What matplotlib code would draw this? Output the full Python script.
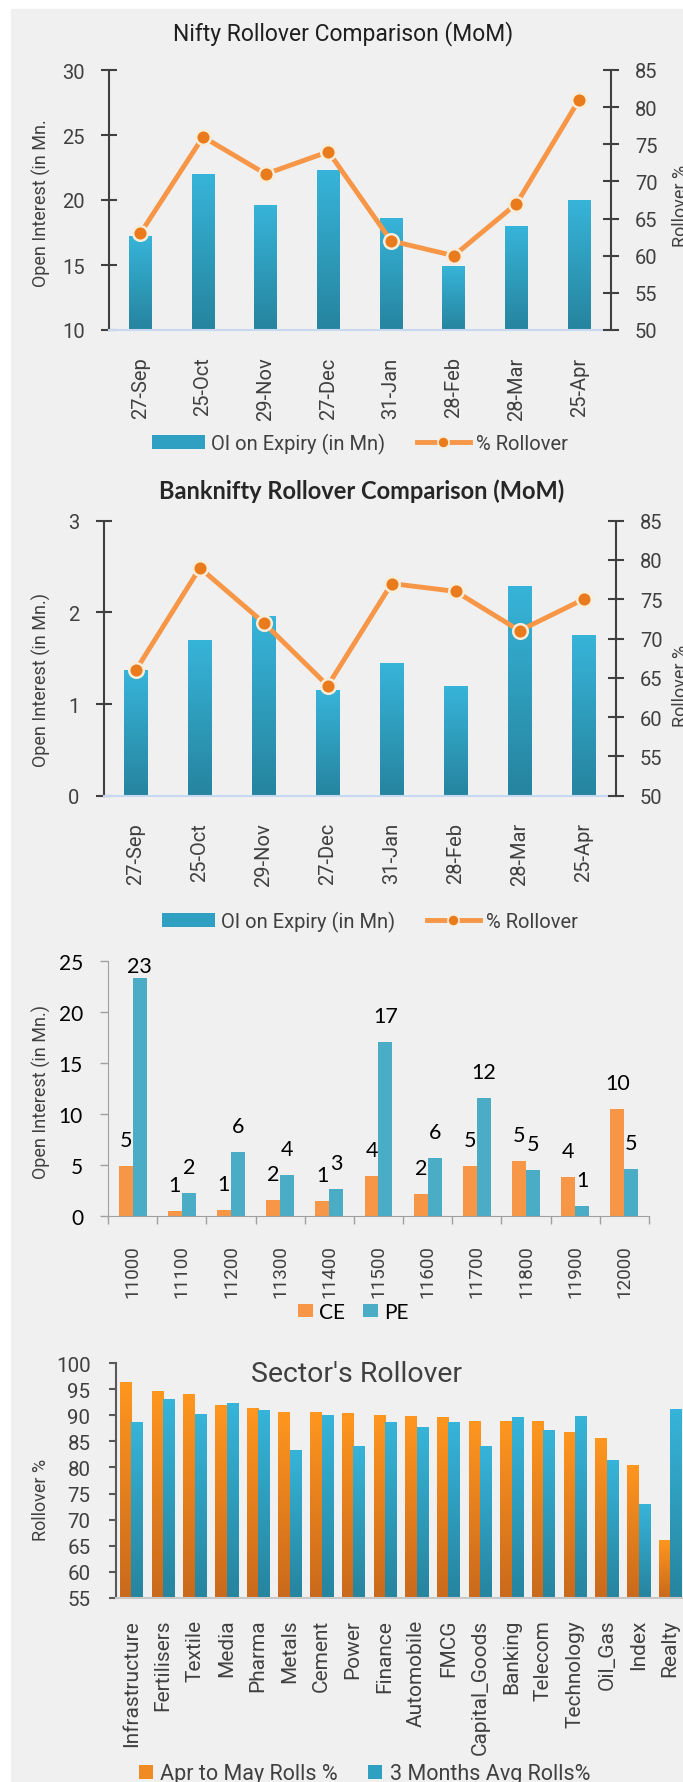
import numpy as np
import matplotlib
matplotlib.use("Agg")
import matplotlib.pyplot as plt
from matplotlib.patches import Rectangle, Patch
from matplotlib.lines import Line2D
from matplotlib.colors import LinearSegmentedColormap

W, H = 683, 1783

# --- data ---
months = ["27-Sep", "25-Oct", "29-Nov", "27-Dec", "31-Jan", "28-Feb", "28-Mar", "25-Apr"]
nifty_oi = [17.2, 22.0, 19.6, 22.3, 18.6, 14.9, 18.0, 20.0]
nifty_roll = [63, 76, 71, 74, 62, 60, 67, 81]
bank_oi = [1.37, 1.70, 1.96, 1.15, 1.45, 1.19, 2.29, 1.75]
bank_roll = [66, 79, 72, 64, 77, 76, 71, 75]

strikes = ["11000", "11100", "11200", "11300", "11400", "11500",
           "11600", "11700", "11800", "11900", "12000"]
ce_oi = [4.9, 0.52, 0.65, 1.55, 1.45, 3.9, 2.2, 4.9, 5.4, 3.85, 10.46]
pe_oi = [23.3, 2.25, 6.25, 4.05, 2.7, 17.0, 5.7, 11.55, 4.55, 0.98, 4.6]

sectors = ["Infrastructure", "Fertilisers", "Textile", "Media", "Pharma", "Metals",
           "Cement", "Power", "Finance", "Automobile", "FMCG", "Capital_Goods",
           "Banking", "Telecom", "Technology", "Oil_Gas", "Index", "Realty"]
roll_apr_may = [96.3, 94.6, 94.0, 91.9, 91.3, 90.6, 90.6, 90.4, 90.0, 89.8,
                89.6, 88.8, 88.8, 88.8, 86.7, 85.6, 80.4, 66.1]
roll_3m_avg = [88.7, 93.0, 90.2, 92.3, 90.9, 83.3, 90.0, 84.1, 88.7, 87.7,
               88.7, 84.1, 89.6, 87.1, 89.8, 81.4, 73.0, 91.1]

RAJ = ["Roboto", "DejaVu Sans"]
CAL = ["Lato", "DejaVu Sans"]
GREY = "#404040"
BLUE_TOP, BLUE_BOT = "#37b4d9", "#26849e"
ORG_TOP, ORG_BOT = "#ff961f", "#c9691c"


def box(x0, y0, x1, y1):
    return [x0 / W, 1 - y1 / H, (x1 - x0) / W, (y1 - y0) / H]


def gradient_bars(ax, bars, top, bottom):
    cmap = LinearSegmentedColormap.from_list("g", [bottom, top])
    grad = np.linspace(0, 1, 256).reshape(-1, 1)
    for b in bars:
        x0, y0 = b.get_x(), b.get_y()
        ax.imshow(grad, extent=[x0, x0 + b.get_width(), y0, y0 + b.get_height()],
                  origin="lower", cmap=cmap, aspect="auto", zorder=2)
        b.set_facecolor("none")
        b.set_edgecolor("none")


def set_family(labels, family):
    for lab in labels:
        lab.set_family(family)


fig = plt.figure(figsize=(W / 100, H / 100), dpi=100)
fig.patches.append(Rectangle((11 / W, 0), 1, 1 - 10 / H, transform=fig.transFigure,
                             color="#f0f0f0", zorder=-5))


def combo(ax_box, oi, roll, ymin, ymax, yticks, title, title_xy, title_kw,
          ylab, ylab_y, rlab_y, leg_xy, bottom_line):
    ax = fig.add_axes(box(*ax_box))
    ax.set_facecolor("none")
    x = np.arange(len(months))
    bars = ax.bar(x, np.array(oi) - ymin, bottom=ymin, width=0.36)
    gradient_bars(ax, bars, BLUE_TOP, BLUE_BOT)
    ax.set_xlim(-0.5, 7.5)
    ax.set_ylim(ymin, ymax)
    ax.set_yticks(yticks)
    ax.set_xticks(x)
    ax.set_xticklabels(months, rotation=90, fontsize=14.5, color=GREY)
    set_family(ax.get_xticklabels() + ax.get_yticklabels(), RAJ)
    ax.tick_params(axis="y", direction="inout", length=11, width=1.5, color=GREY,
                   pad=12, labelsize=14.5, labelcolor=GREY)
    ax.tick_params(axis="x", length=0, pad=19)
    for s in ["top", "right"]:
        ax.spines[s].set_visible(False)
    ax.spines["left"].set_color(GREY)
    ax.spines["left"].set_linewidth(1.5)
    ax.spines["bottom"].set_color(bottom_line)
    ax.spines["bottom"].set_linewidth(1.5)

    ax2 = ax.twinx()
    ax2.set_ylim(50, 85)
    ax2.set_yticks(range(50, 90, 5))
    set_family(ax2.get_yticklabels(), RAJ)
    ax2.tick_params(axis="y", direction="inout", length=11, width=1.5, color=GREY,
                    pad=12, labelsize=14.5, labelcolor=GREY)
    for s in ["top", "left", "bottom"]:
        ax2.spines[s].set_visible(False)
    ax2.spines["right"].set_color(GREY)
    ax2.spines["right"].set_linewidth(1.5)
    ax2.plot(x, roll, color="#f79646", lw=3.5, marker="o", ms=10.5,
             mfc="#ea7b1c", mec="#f6eddb", mew=1.8, zorder=3)

    fig.text(title_xy[0] / W, 1 - title_xy[1] / H, title, ha="center", va="center",
             **title_kw)
    fig.text(41 / W, 1 - ylab_y / H, ylab, rotation=90, ha="center", va="center",
             family=RAJ, fontsize=13, color=GREY)
    fig.text(672 / W, 1 - rlab_y / H, "Rollover %", rotation=90, ha="left",
             va="center", family=RAJ, fontsize=13, color=GREY)

    handles = [Patch(facecolor="#2fa0c2"),
               Line2D([], [], color="#f79646", lw=3.5, marker="o", ms=8,
                      mfc="#ea7b1c", mec="#f6eddb", mew=1.2)]
    fig.legend(handles, ["OI on Expiry (in Mn)", "% Rollover"], loc="center",
               bbox_to_anchor=(leg_xy[0] / W, 1 - leg_xy[1] / H), ncol=2,
               frameon=False, prop=dict(family=RAJ, size=14.5),
               labelcolor=GREY, handlelength=2.6, handleheight=0.7,
               handletextpad=0.3, columnspacing=1.6, borderpad=0, borderaxespad=0)


# Chart 1: Nifty
combo((109, 71, 610.5, 331), nifty_oi, nifty_roll, 10, 30, range(10, 31, 5),
      "Nifty Rollover Comparison (MoM)", (343, 34),
      dict(family=RAJ, fontsize=16.5, color="#1f1f1f"),
      "Open Interest (in Mn.", 203, 206, (360, 444), "#c6d9f0")

# Chart 2: Banknifty
combo((104, 521.7, 615.5, 796.7), bank_oi, bank_roll, 0, 3, range(0, 4),
      "Banknifty Rollover Comparison (MoM)", (362, 491.5),
      dict(family=CAL, fontsize=17, weight="bold", color="#262626"),
      "Open Interest (in Mn.)", 680, 686, (370, 922.5), "#c6d9f0")

# Chart 3: strike-wise OI
ax3 = fig.add_axes(box(108, 961.7, 649, 1217.3))
ax3.set_facecolor("none")
xs = np.arange(len(strikes))
ax3.bar(xs - 0.142, ce_oi, width=0.285, color="#f79646", zorder=2)
ax3.bar(xs + 0.142, pe_oi, width=0.285, color="#4bacc6", zorder=2)
for xi, v in zip(xs, ce_oi):
    ax3.text(xi - 0.142, min(v + 2.55, 24.45), f"{v:.0f}", ha="center", va="center",
             family=CAL, fontsize=15.5, color="black")
for xi, v in zip(xs, pe_oi):
    ax3.text(xi + 0.142, min(v + 2.55, 24.45), f"{v:.0f}", ha="center", va="center",
             family=CAL, fontsize=15.5, color="black")
ax3.set_xlim(-0.5, len(strikes) - 0.5)
ax3.set_ylim(0, 25)
ax3.set_yticks(range(0, 26, 5))
ax3.set_xticks(xs)
ax3.set_xticklabels(strikes, rotation=90, fontsize=13.6, color=GREY)
set_family(ax3.get_yticklabels(), CAL)
set_family(ax3.get_xticklabels(), RAJ)
ax3.tick_params(axis="y", direction="out", length=5.5, width=1, color="#a0a0a0",
                pad=12.5, labelsize=15, labelcolor="black")
ax3.set_xticks(np.arange(-0.5, len(strikes), 1), minor=True)
ax3.tick_params(axis="x", which="major", length=0, pad=20)
ax3.tick_params(axis="x", which="minor", direction="out", length=6, width=1,
                color="#a0a0a0")
for s in ["top", "right"]:
    ax3.spines[s].set_visible(False)
for s in ["left", "bottom"]:
    ax3.spines[s].set_color("#a0a0a0")
fig.text(41 / W, 1 - 1092 / H, "Open Interest (in Mn.)", rotation=90, ha="center",
         va="center", family=RAJ, fontsize=13, color=GREY)
fig.legend([Patch(facecolor="#f79646"), Patch(facecolor="#4bacc6")], ["CE", "PE"],
           loc="center", bbox_to_anchor=(353.5 / W, 1 - 1313 / H), ncol=2,
           frameon=False, prop=dict(family=CAL, size=15), labelcolor="black",
           handlelength=0.72, handleheight=0.62, handletextpad=0.3,
           columnspacing=0.87, borderpad=0, borderaxespad=0)

# Chart 4: sector rollover
ax4 = fig.add_axes(box(115.5, 1364, 686, 1599))
ax4.set_facecolor("none")
xg = np.arange(len(sectors))
b1 = ax4.bar(xg - 0.18, np.array(roll_apr_may) - 55, bottom=55, width=0.355)
b2 = ax4.bar(xg + 0.18, np.array(roll_3m_avg) - 55, bottom=55, width=0.355)
gradient_bars(ax4, b1, ORG_TOP, ORG_BOT)
gradient_bars(ax4, b2, BLUE_TOP, BLUE_BOT)
ax4.set_xlim(-0.5, len(sectors) - 0.5)
ax4.set_ylim(55, 100)
ax4.set_yticks(range(55, 101, 5))
ax4.set_xticks(xg)
ax4.set_xticklabels(sectors, rotation=90, fontsize=15, color=GREY)
set_family(ax4.get_xticklabels() + ax4.get_yticklabels(), RAJ)
ax4.tick_params(axis="y", direction="out", length=5.3, width=1.5, color="#595959",
                pad=12.7, labelsize=14.8, labelcolor=GREY)
ax4.tick_params(axis="x", length=0, pad=15)
for s in ["top", "right"]:
    ax4.spines[s].set_visible(False)
ax4.spines["left"].set_color("#595959")
ax4.spines["left"].set_linewidth(1.5)
ax4.spines["bottom"].set_color("#c8c8c8")
ax4.spines["bottom"].set_linewidth(1.5)
fig.text(356.5 / W, 1 - 1375 / H, "Sector's Rollover", ha="center", va="center",
         family=RAJ, fontsize=20.5, color=GREY)
fig.text(41 / W, 1 - 1500 / H, "Rollover %", rotation=90, ha="center", va="center",
         family=RAJ, fontsize=13, color=GREY)
fig.legend([Patch(facecolor="#f08a22"), Patch(facecolor="#2fa0c2")],
           ["Apr to May Rolls %", "3 Months Avg Rolls%"], loc="center",
           bbox_to_anchor=(364.5 / W, 1 - 1775 / H), ncol=2, frameon=False,
           prop=dict(family=RAJ, size=15.5), labelcolor=GREY,
           handlelength=0.65, handleheight=0.65, handletextpad=0.36,
           columnspacing=1.4, borderpad=0, borderaxespad=0)

fig.savefig("out.png", dpi=100, facecolor="white")
